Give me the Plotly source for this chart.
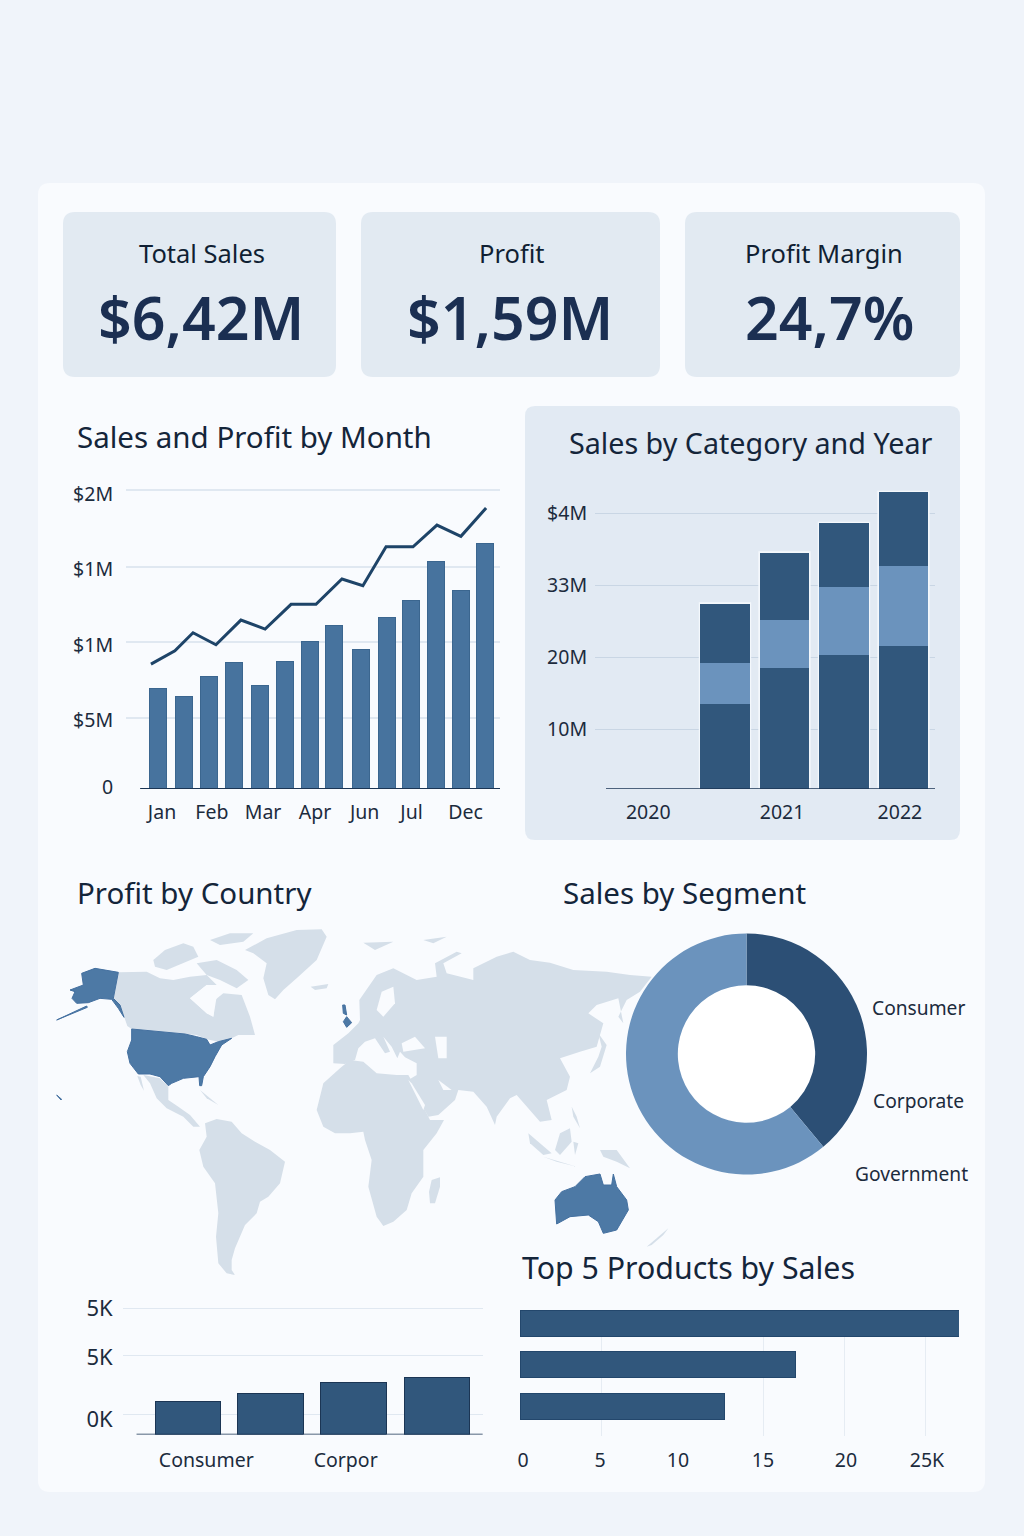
import plotly.graph_objects as go

W, H = 1024, 1536
FONT = "Noto Sans"
INK = "#1c2b3d"
DARK = "#31577c"
MID = "#6b93bd"
BLUE = "#47739e"
LAND = "#d5dfe9"
CARD = "#f9fbfe"

# ---- data ----
kpi_labels = ["Total Sales", "Profit", "Profit Margin"]
kpi_values = ["$6,42M", "$1,59M", "24,7%"]

month_bar_pos = [0, 1.03, 2.02, 3.02, 4.05, 5.04, 6.03, 6.98, 8.06, 9.09, 10.04, 11.03, 12.02, 12.97]
month_sales = [1.34, 1.24, 1.50, 1.69, 1.38, 1.71, 1.97, 2.19, 1.86, 2.30, 2.52, 3.04, 2.65, 3.28]
month_line_pos = [-0.28, 0.67, 1.39, 2.30, 3.29, 4.25, 5.28, 6.27, 7.30, 8.13, 9.05, 10.12, 11.07, 12.02, 13.02]
month_profit = [1.67, 1.85, 2.09, 1.93, 2.26, 2.14, 2.47, 2.47, 2.81, 2.72, 3.24, 3.24, 3.53, 3.38, 3.76]
month_ticks = [0.16, 2.14, 4.17, 6.23, 8.2, 10.06, 12.2]
month_labels = ["Jan", "Feb", "Mar", "Apr", "Jun", "Jul", "Dec"]
month_yticks = [0.03, 0.92, 1.93, 2.94, 3.95]
month_ylabels = ["0", "$5M", "$1M", "$1M", "$2M"]
month_grid = [0.95, 1.97, 2.97, 4.0]

cat_pos = [1, 2, 3, 4]
cat_a = [13.5, 18.5, 20.3, 21.5]
cat_b = [5.7, 6.7, 9.4, 11.1]
cat_c = [8.2, 9.3, 8.9, 10.3]
cat_ticks = [-0.29, 1.96, 3.94]
cat_labels = ["2020", "2021", "2022"]
cat_yticks = [10, 20, 30, 40]
cat_ylabels = ["10M", "20M", "33M", "$4M"]

seg_labels = ["Consumer", "Corporate", "Government"]
seg_values = [39, 61, 0]

low_pos = [0, 0.988, 1.988, 3.0]
low_values = [33.5, 41, 52, 57.5]
low_ticks = [0.22, 1.9]
low_labels = ["Consumer", "Corpor"]
low_yticks = [15.5, 77.5, 126.5]
low_ylabels = ["0K", "5K", "5K"]
low_grid = [20, 79.5, 126.5]

top_rows = [0, 1, 2]
top_values = [27.1, 17, 12.6]
top_ticks = [0.19, 4.94, 9.75, 15, 20.12, 25.12]
top_labels = ["0", "5", "10", "15", "20", "25K"]
top_grid = [5, 15, 20, 25]

# map outlines, projected map units
map_land = {
    "Canada": [(205,157),(290,155),(330,175),(370,180),(420,170),(470,165),(500,195),(470,195),(420,235),(470,280),(490,290),(495,240),(520,220),(575,225),(600,290),(615,345),(565,345),(545,355),(505,365),(470,358),(440,345),(405,342),(245,327),(232,318),(222,292),(210,255),(190,235)],
    "Arctic1": [(310,120),(345,90),(400,70),(430,80),(445,110),(400,130),(350,150),(315,140)],
    "Arctic2": [(480,60),(540,40),(610,40),(580,65),(510,75)],
    "Arctic3": [(440,130),(500,120),(560,150),(595,180),(560,205),(510,180),(470,165)],
    "Greenland": [(585,90),(650,55),(740,30),(815,28),(830,50),(800,120),(745,170),(700,210),(675,238),(655,225),(640,175),(650,130),(610,100)],
    "Iceland": [(782,200),(835,192),(830,205),(795,210)],
    "Mexico": [(280,465),(330,475),(355,500),(355,540),(385,560),(420,585),(450,620),(430,620),(400,590),(350,565),(320,535),(300,490)],
    "Baja": [(262,468),(272,470),(282,512),(272,495)],
    "Cuba": [(450,510),(505,555),(470,535)],
    "SouthAmerica": [(465,610),(500,597),(545,605),(575,640),(615,665),(660,690),(705,725),(690,790),(655,830),(630,845),(620,880),(585,915),(555,985),(545,1020),(545,1050),(555,1065),(530,1060),(505,1030),(498,950),(505,880),(495,790),(460,740),(448,690),(470,650)],
    "Africa": [(800,570),(820,490),(870,445),(900,420),(940,425),(980,460),(1040,465),(1075,465),(1095,500),(1120,560),(1140,600),(1182,600),(1160,640),(1120,690),(1120,770),(1085,820),(1070,870),(1030,905),(1000,918),(980,890),(955,800),(965,720),(945,660),(940,635),(900,640),(855,640),(820,620)],
    "Madagascar": [(1145,780),(1170,772),(1170,800),(1155,850),(1140,850),(1137,815)],
    "Eurasia": [(850,430),(850,375),(895,340),(925,310),(930,300),(928,240),(980,165),(1030,145),(1100,180),(1160,170),(1155,130),(1220,95),(1235,100),(1180,130),(1190,160),(1270,180),(1270,145),(1340,110),(1390,95),(1440,120),(1500,128),(1570,150),(1670,155),(1740,165),(1805,170),(1770,215),(1730,240),(1705,290),(1720,310),(1705,235),(1640,255),(1615,280),(1660,310),(1640,380),(1590,395),(1530,415),(1560,470),(1550,510),(1490,540),(1505,600),(1470,605),(1440,570),(1400,525),(1380,535),(1340,590),(1335,615),(1310,560),(1270,515),(1225,510),(1215,540),(1165,585),(1135,590),(1100,525),(1075,480),(1100,465),(1100,430),(1065,412),(1050,395),(1042,415),(1025,380),(1000,350),(1020,395),(1005,400),(975,355),(945,365),(925,385),(915,420),(885,432)],
    "Japan": [(1645,340),(1670,375),(1650,440),(1620,460),(1645,410),(1655,380)],
    "Sumatra": [(1435,640),(1505,700),(1480,705),(1440,670)],
    "Borneo": [(1530,640),(1560,625),(1565,665),(1530,705),(1515,690)],
    "Java": [(1480,710),(1580,740),(1520,725)],
    "Sulawesi": [(1570,665),(1585,670),(1575,705)],
    "Philippines": [(1565,560),(1580,590),(1590,625),(1570,590)],
    "NewGuinea": [(1650,690),(1700,690),(1740,745),(1700,725),(1660,710)],
    "NewZealand": [(1790,980),(1855,925),(1840,945),(1805,975)],
    "Svalbard": [(940,68),(1030,65),(975,90)],
    "Novaya": [(1120,60),(1190,50),(1150,70)],
}
map_water = {
    "BlackSea": [(1055,370),(1095,350),(1125,385),(1060,395)],
    "Caspian": [(1155,350),(1190,350),(1190,415),(1165,415)],
    "Baltic": [(980,270),(995,215),(1030,200),(1035,250),(1000,290)],
    "RedSea": [(1075,480),(1120,570),(1125,555),(1085,490)],
    "Gulf": [(1165,480),(1205,510),(1180,510)],
    "Hudson": [(420,235),(470,195),(500,230),(490,290),(470,280)],
    "Lakes": [(430,380),(440,355),(445,380)],
    "Michigan": [(455,390),(470,358),(478,375)],
}
map_profit = {
    "Alaska": [(135,145),(205,157),(190,235),(210,255),(222,292),(205,265),(185,238),(150,235),(115,248),(80,250),(66,235),(75,215),(60,210),(100,195),(95,160)],
    "Aleutians": [(20,300),(110,258),(112,262),(22,301)],
    "Hawaii": [(20,525),(35,538),(33,540),(20,527)],
    "USA": [(245,327),(405,342),(440,350),(470,358),(480,375),(505,365),(545,355),(515,375),(495,410),(480,440),(460,470),(455,497),(449,497),(447,470),(400,475),(365,490),(355,497),(330,470),(300,462),(265,462),(240,430),(232,395),(245,360)],
    "Britain": [(878,255),(885,255),(890,285),(880,280)],
    "Germany": [(890,290),(905,308),(890,322),(880,305)],
    "Australia": [(1515,840),(1535,815),(1575,800),(1605,770),(1650,762),(1660,795),(1685,795),(1690,762),(1700,800),(1730,840),(1735,870),(1700,930),(1660,940),(1645,905),(1615,885),(1560,890),(1520,912)],
}

# ---- helpers ----
def xd(a, b):
    return [a / W, b / W]

def yd(top, bottom):
    return [1 - bottom / H, 1 - top / H]

def rounded(x0, y0, x1, y1, r):
    X = lambda v: f"{v / W:.5f}"
    Y = lambda v: f"{1 - v / H:.5f}"
    return (f"M {X(x0 + r)} {Y(y0)} L {X(x1 - r)} {Y(y0)} Q {X(x1)} {Y(y0)} {X(x1)} {Y(y0 + r)} "
            f"L {X(x1)} {Y(y1 - r)} Q {X(x1)} {Y(y1)} {X(x1 - r)} {Y(y1)} "
            f"L {X(x0 + r)} {Y(y1)} Q {X(x0)} {Y(y1)} {X(x0)} {Y(y1 - r)} "
            f"L {X(x0)} {Y(y0 + r)} Q {X(x0)} {Y(y0)} {X(x0 + r)} {Y(y0)} Z")

def panel(x0, y0, x1, y1, r, color):
    return dict(type="path", xref="paper", yref="paper", path=rounded(x0, y0, x1, y1, r),
                fillcolor=color, line=dict(width=0), layer="below")

def text(s, x, y, size, anchor="left", color=INK, weight=None):
    f = dict(family=FONT, size=size, color=color)
    if weight:
        f["weight"] = weight
    return dict(text=s, x=x / W, y=1 - y / H, xref="paper", yref="paper", xanchor=anchor,
                yanchor="middle", showarrow=False, font=f)

tickfont = dict(family=FONT, size=19.5, color=INK)

def axis(dom, rng, **kw):
    d = dict(domain=dom, range=rng, showgrid=False, zeroline=False, showline=False, tickfont=tickfont,
             ticks="", fixedrange=True, automargin=False)
    d.update(kw)
    return d

GRID = "#e0e8f1"
GRID2 = "#c9d6e4"
BASE = "#1b3554"
EDGE = "#23476c"
CLEAR = "rgba(0,0,0,0)"

fig = go.Figure()

# monthly chart
fig.add_bar(x=month_bar_pos, y=month_sales, width=0.69, marker=dict(color=BLUE, line=dict(color="#3b668f", width=1)),
            xaxis="x", yaxis="y", name="Sales")
fig.add_scatter(x=month_line_pos, y=month_profit, mode="lines", line=dict(color="#1e4468", width=3),
                xaxis="x", yaxis="y", name="Profit")

# category chart
for vals, col, nm in [(cat_a, DARK, "A"), (cat_b, MID, "B"), (cat_c, DARK, "C")]:
    fig.add_bar(x=cat_pos, y=vals, width=0.83, marker=dict(color=col, line=dict(width=0)),
                xaxis="x2", yaxis="y2", name=nm)

# map
for name, pts in map_land.items():
    fig.add_scatter(x=[p[0] for p in pts] + [pts[0][0]], y=[p[1] for p in pts] + [pts[0][1]], mode="lines",
                    fill="toself", fillcolor=LAND, line=dict(width=0, color=LAND), xaxis="x5", yaxis="y5", name=name)
for name, pts in map_water.items():
    fig.add_scatter(x=[p[0] for p in pts] + [pts[0][0]], y=[p[1] for p in pts] + [pts[0][1]], mode="lines",
                    fill="toself", fillcolor=CARD, line=dict(width=0, color=CARD), xaxis="x5", yaxis="y5", name=name)
for name, pts in map_profit.items():
    fig.add_scatter(x=[p[0] for p in pts] + [pts[0][0]], y=[p[1] for p in pts] + [pts[0][1]], mode="lines",
                    fill="toself", fillcolor="#4d79a5", line=dict(width=1, color="#4470a0"), xaxis="x5", yaxis="y5", name=name)

# donut
fig.add_pie(labels=seg_labels, values=seg_values, hole=0.57, sort=False, direction="clockwise", rotation=0,
            textinfo="none", marker=dict(colors=["#2c4f75", MID, "#a8bfd8"], line=dict(width=0)),
            domain=dict(x=xd(626, 867), y=yd(933, 1175)))

# low chart
fig.add_bar(x=low_pos, y=low_values, width=0.795, marker=dict(color=DARK, line=dict(color=BASE, width=1)),
            xaxis="x3", yaxis="y3", name="Low")

# top products
fig.add_bar(x=top_values, y=top_rows, orientation="h", width=26 / 41.5, marker=dict(color=DARK, line=dict(color=EDGE, width=1)),
            xaxis="x4", yaxis="y4", name="Top")

shapes = [
    panel(38, 183, 985, 1492, 12, CARD),
    panel(63, 212, 336, 377, 12, "#e2eaf2"),
    panel(361, 212, 660, 377, 12, "#e2eaf2"),
    panel(685, 212, 960, 377, 12, "#e2eaf2"),
    panel(525, 406, 960, 840, 10, "#e2eaf3"),
    dict(type="circle", xref="paper", yref="paper", x0=678 / W, x1=815 / W, y0=1 - 1122 / H, y1=1 - 985 / H,
         fillcolor="#ffffff", line=dict(width=0), layer="below"),
    dict(type="line", xref="x", yref="y", x0=-0.71, x1=13.6, y0=0, y1=0, line=dict(color=BASE, width=2), layer="above"),
    dict(type="line", xref="x2", yref="y2", x0=-1.0, x1=4.55, y0=1.67, y1=1.67, line=dict(color=BASE, width=1.5), layer="above"),
    dict(type="line", xref="x3", yref="y3", x0=-0.62, x1=3.55, y0=0, y1=0, line=dict(color=BASE, width=1.5), layer="above"),
]
for p, a, b, c in zip(cat_pos, cat_a, cat_b, cat_c):
    shapes.append(dict(type="rect", xref="x2", yref="y2", x0=p - 0.44, x1=p + 0.44, y0=1.67, y1=a + b + c + 0.2,
                       fillcolor="#f4f8fc", line=dict(width=0), layer="between"))

annotations = []
for s, v, cx, vx in zip(kpi_labels, kpi_values, [202, 511, 824], [201, 510, 829]):
    annotations.append(text(s, cx, 253, 25.5, "center", "#101f33"))
    annotations.append(text(v, vx, 317, 59, "center", "#1b2f52", 600))
annotations += [
    text("Sales and Profit by Month", 75, 437, 29.5, color="#14253a"),
    text("Sales by Category and Year", 567, 442, 28.7, color="#14253a"),
    text("Profit by Country", 75, 892, 29.5, color="#14253a"),
    text("Sales by Segment", 561, 892, 29.5, color="#14253a"),
    text("Top 5 Products by Sales", 520, 1267, 30.3, color="#14253a"),
    text("Consumer", 870, 1007, 19.2),
    text("Corporate", 871, 1100, 19.2),
    text("Government", 853, 1173, 19.2),
]

def mgrid(vals, col, w=1):
    return dict(tickvals=vals, showgrid=True, gridcolor=col, gridwidth=w, ticks="")

fig.update_layout(
    width=W, height=H, margin=dict(l=0, r=0, t=0, b=0, pad=0), autosize=False,
    paper_bgcolor="#f0f4fa", plot_bgcolor=CLEAR, showlegend=False, barmode="stack",
    hovermode=False, shapes=shapes, annotations=annotations,
    xaxis=axis(xd(126, 500), [(126 - 158) / 25.2, (500 - 158) / 25.2], tickvals=month_ticks, ticktext=month_labels,
               ticks="outside", ticklen=6, tickcolor=CLEAR, anchor="y"),
    yaxis=axis(yd(480, 789), [0, 309 / 74.75], tickvals=month_yticks, ticktext=month_ylabels,
               minor=mgrid(month_grid, GRID, 1.5), ticks="outside", ticklen=8, tickcolor=CLEAR, anchor="x"),
    xaxis2=axis(xd(595, 935), [1 + (595 - 725) / 59.5, 1 + (935 - 725) / 59.5], tickvals=cat_ticks, ticktext=cat_labels,
                ticks="outside", ticklen=6, tickcolor=CLEAR, anchor="y2"),
    yaxis2=axis(yd(485, 789), [1.67, 10 + (729 - 485) / 7.2], tickvals=cat_yticks, ticktext=cat_ylabels, showgrid=True,
                gridcolor=GRID2, ticks="outside", ticklen=3, tickcolor=CLEAR, anchor="x2"),
    xaxis3=axis(xd(123, 483), [(123 - 188) / 83, (483 - 188) / 83], tickvals=low_ticks, ticktext=low_labels,
                ticks="outside", ticklen=8, tickcolor=CLEAR, anchor="y3"),
    yaxis3=axis(yd(1300, 1434.5), [0, 134.5], tickvals=low_yticks, ticktext=low_ylabels,
                minor=mgrid(low_grid, GRID), ticks="outside", ticklen=5, tickcolor=CLEAR, anchor="x3",
                tickfont=dict(family=FONT, size=22, color=INK)),
    xaxis4=axis(xd(520, 959), [0, 439 / 16.2], tickvals=top_ticks, ticktext=top_labels,
                minor=mgrid(top_grid, "#e6ecf3"), ticks="outside", ticklen=7, tickcolor=CLEAR, anchor="y4"),
    yaxis4=axis(yd(1310, 1436), [(1436 - 1323) / 41.5, (1310 - 1323) / 41.5], showticklabels=False, anchor="x4"),
    xaxis5=axis(xd(50, 680), [0, 1890], visible=False, anchor="y5"),
    yaxis5=axis(yd(920, 1280), [1080, 0], visible=False, anchor="x5"),
)

fig.write_html("out.html", config=dict(displayModeBar=False),
               post_script="document.body.style.margin='0';document.body.style.background='#f0f4fa';")
